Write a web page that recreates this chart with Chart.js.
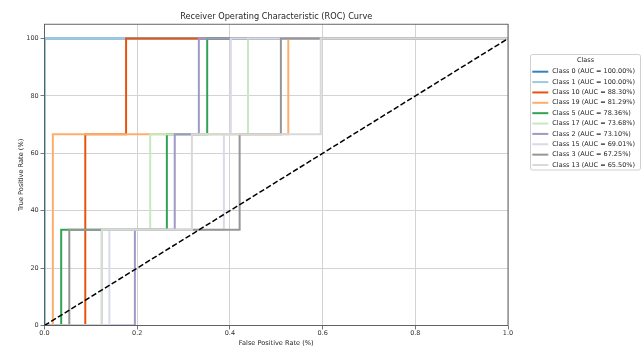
<!DOCTYPE html>
<html><head><meta charset="utf-8">
<script src="https://cdn.jsdelivr.net/npm/chart.js@4/dist/chart.umd.min.js"></script>
<style>html,body{margin:0;padding:0;background:#fff;}#wrap{width:642px;height:348px;}</style>
</head><body><div id="wrap"><canvas id="c" width="642" height="348"></canvas></div>
<script>
const classNames = ['Class 0','Class 1','Class 10','Class 19','Class 5','Class 17','Class 2','Class 15','Class 3','Class 13'];
const aucValues = [100.00,100.00,88.30,81.29,78.36,73.68,73.10,69.01,67.25,65.50];
const lineColors = ['#3182bd','#9ecae1','#e6550d','#fdae6b','#31a354','#c7e9c0','#9e9ac8','#dadaeb','#969696','#d9d9d9'];

const fprClass0  = [0, 0, 1];
const tprClass0  = [0, 100, 100];
const fprClass1  = [0, 0, 1];
const tprClass1  = [0, 100, 100];
const fprClass10 = [0, 0.088, 0.088, 0.176, 0.176, 1];
const tprClass10 = [0, 0, 66.67, 66.67, 100, 100];
const fprClass19 = [0, 0.018, 0.018, 0.526, 0.526, 1];
const tprClass19 = [0, 0, 66.67, 66.67, 100, 100];
const fprClass5  = [0, 0.036, 0.036, 0.264, 0.264, 0.351, 0.351, 1];
const tprClass5  = [0, 0, 33.33, 33.33, 66.67, 66.67, 100, 100];
const fprClass17 = [0, 0.123, 0.123, 0.228, 0.228, 0.439, 0.439, 1];
const tprClass17 = [0, 0, 33.33, 33.33, 66.67, 66.67, 100, 100];
const fprClass2  = [0, 0.195, 0.195, 0.281, 0.281, 0.333, 0.333, 1];
const tprClass2  = [0, 0, 33.33, 33.33, 66.67, 66.67, 100, 100];
const fprClass15 = [0, 0.140, 0.140, 0.387, 0.387, 0.402, 0.402, 1];
const tprClass15 = [0, 0, 33.33, 33.33, 66.67, 66.67, 100, 100];
const fprClass3  = [0, 0.0535, 0.0535, 0.421, 0.421, 0.510, 0.510, 1];
const tprClass3  = [0, 0, 33.33, 33.33, 66.67, 66.67, 100, 100];
const fprClass13 = [0, 0.124, 0.124, 0.318, 0.318, 0.596, 0.596, 1];
const tprClass13 = [0, 0, 33.33, 33.33, 66.67, 66.67, 100, 100];
const chanceFpr = [0, 1];
const chanceTpr = [0, 100];

const xTicks = [0, 0.2, 0.4, 0.6, 0.8, 1.0];
const yTicks = [0, 20, 40, 60, 80, 100];

const fprList = [fprClass0,fprClass1,fprClass10,fprClass19,fprClass5,fprClass17,fprClass2,fprClass15,fprClass3,fprClass13];
const tprList = [tprClass0,tprClass1,tprClass10,tprClass19,tprClass5,tprClass17,tprClass2,tprClass15,tprClass3,tprClass13];

const FONT = '"DejaVu Sans", sans-serif';
const pts = (xs, ys) => xs.map((x, i) => ({x: x, y: ys[i]}));

const datasets = classNames.map((name, k) => ({
  label: name + ' (AUC = ' + aucValues[k].toFixed(2) + '%)',
  data: pts(fprList[k], tprList[k]),
  borderColor: lineColors[k],
  backgroundColor: lineColors[k],
  borderWidth: 2,
  pointRadius: 0,
  tension: 0,
  fill: false,
  borderJoinStyle: 'miter',
  order: 10 - k
}));
datasets.push({
  label: 'chance',
  data: pts(chanceFpr, chanceTpr),
  borderColor: '#000',
  borderWidth: 1.5,
  borderDash: [5.5, 2.4],
  pointRadius: 0,
  tension: 0,
  fill: false,
  order: 0
});

const framePlugin = {
  id: 'frame',
  afterDatasetsDraw(chart) {
    const {ctx, chartArea: a} = chart;
    ctx.save();
    ctx.strokeStyle = '#555';
    ctx.lineWidth = 0.9;
    ctx.strokeRect(a.left, a.top, a.right - a.left, a.bottom - a.top);
    ctx.restore();
  }
};

const legendPlugin = {
  id: 'boxLegend',
  afterDraw(chart) {
    const ctx = chart.ctx;
    const x0 = 530.5, y0 = 54.5, w = 110, h = 115.5;
    ctx.save();
    ctx.fillStyle = 'rgba(255,255,255,0.8)';
    ctx.strokeStyle = '#d0d0d0';
    ctx.lineWidth = 1;
    ctx.beginPath();
    ctx.roundRect(x0, y0, w, h, 2);
    ctx.fill();
    ctx.stroke();
    ctx.font = '6.5px ' + FONT;
    ctx.fillStyle = '#262626';
    ctx.textAlign = 'center';
    ctx.textBaseline = 'middle';
    ctx.fillText('Class', 585.5, 60);
    ctx.textAlign = 'left';
    for (let k = 0; k < classNames.length; k++) {
      const ds = chart.data.datasets[k];
      const y = 71.7 + k * 10.37;
      ctx.strokeStyle = ds.borderColor;
      ctx.lineWidth = 2;
      ctx.beginPath();
      ctx.moveTo(532.3, y);
      ctx.lineTo(548.3, y);
      ctx.stroke();
      ctx.fillStyle = '#262626';
      ctx.fillText(ds.label, 552.3, y);
    }
    ctx.restore();
  }
};

new Chart(document.getElementById('c'), {
  type: 'line',
  data: { datasets: datasets },
  plugins: [framePlugin, legendPlugin],
  options: {
    responsive: false,
    animation: false,
    devicePixelRatio: 1,
    layout: { padding: { left: 0, right: 134, top: 0, bottom: 0 } },
    plugins: {
      legend: { display: false },
      tooltip: { enabled: false },
      title: {
        display: true,
        text: 'Receiver Operating Characteristic (ROC) Curve',
        fullSize: false,
        color: '#262626',
        font: { family: FONT, size: 8.2, weight: 'normal' },
        padding: { top: 11.5, bottom: 2.9 }
      }
    },
    scales: {
      x: {
        type: 'linear',
        min: 0, max: 1,
        afterFit: s => { s.height = 22.5; },
        afterBuildTicks: s => { s.ticks = xTicks.map(v => ({value: v})); },
        grid: { color: '#d3d3d3', lineWidth: 1, tickLength: 4, tickColor: '#555', tickWidth: 0.8 },
        border: { display: false },
        ticks: { color: '#333', padding: 0, maxRotation: 0, autoSkip: false,
          font: { family: FONT, size: 6.5 },
          callback: v => Number(v).toFixed(1) },
        title: { display: true, text: 'False Positive Rate (%)', color: '#262626',
          font: { family: FONT, size: 6.6 }, padding: { top: 0, bottom: 0.74 } }
      },
      y: {
        type: 'linear',
        min: 0, max: 105,
        afterFit: s => { s.width = 44.5; },
        afterBuildTicks: s => { s.ticks = yTicks.map(v => ({value: v})); },
        grid: { color: '#d3d3d3', lineWidth: 1, tickLength: 4, tickColor: '#555', tickWidth: 0.8 },
        border: { display: false },
        ticks: { color: '#333', padding: 1.8, autoSkip: false,
          font: { family: FONT, size: 6.5 },
          callback: v => String(v) },
        title: { display: true, text: 'True Positive Rate (%)', color: '#262626',
          font: { family: FONT, size: 6.6 }, padding: { top: 17.7, bottom: 0 } }
      }
    }
  }
});
</script></body></html>
